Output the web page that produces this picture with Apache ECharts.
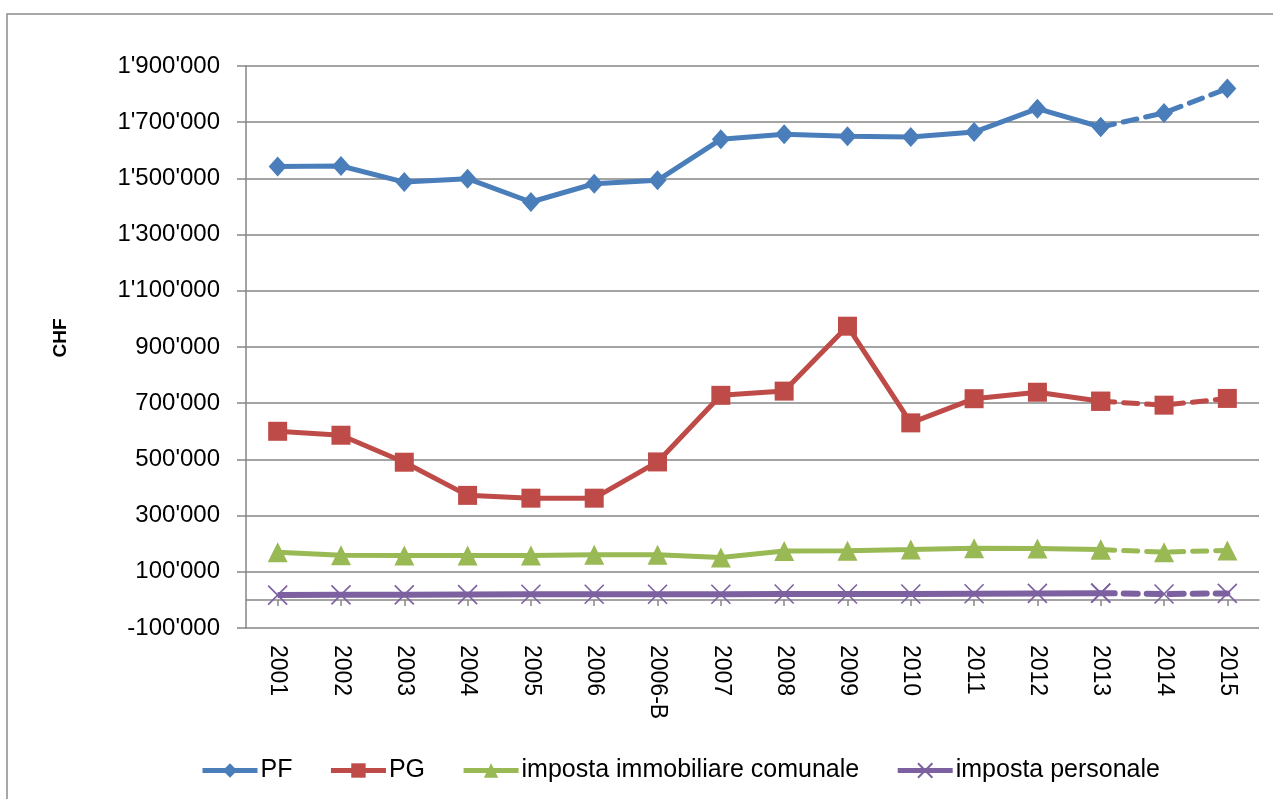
<!DOCTYPE html>
<html>
<head>
<meta charset="utf-8">
<script src="https://cdn.jsdelivr.net/npm/echarts@6/dist/echarts.min.js"></script>
<style>
html,body{margin:0;padding:0;background:#fff;}
#chart{width:1273px;height:799px;}
</style>
</head>
<body>
<div id="chart"></div>
<script>
const categories = ['2001','2002','2003','2004','2005','2006','2006-B','2007','2008','2009','2010','2011','2012','2013','2014','2015'];
const pfValues = [1542000,1544000,1487000,1499000,1416000,1481000,1493000,1639000,1657000,1650000,1647000,1665000,1748000,1683000,1733000,1820000];
const pgValues = [600000,586000,490000,372000,362000,362000,491000,728000,743000,974000,630000,716000,739000,707000,693000,717000];
const immobiliareValues = [170000,159000,158000,158000,158000,161000,161000,151000,174000,175000,179000,184000,183000,179000,170000,176000];
const personaleValues = [17000,18000,18000,19000,20000,20000,20000,20000,21000,21000,21000,22000,23000,24000,21000,23000];
const seriesNames = ['PF','PG','imposta immobiliare comunale','imposta personale'];
const yTicks = {min:-100000, max:1900000, interval:200000};
const lastSolidIndex = 13; // 2013: from here on the line is dashed

const colors = ['#4A7EBB','#BE4B48','#98B954','#7D60A0'];
const symbols = ['diamond','rect','triangle','path://M0,0L10,10M10,0L0,10'];
const symbolSizes = [[18,20],19,20,19];
const lineWidths = [5,5,5,6];
const allValues = [pfValues,pgValues,immobiliareValues,personaleValues];

function fmt(v){
  const s = Math.abs(v).toString().replace(/\B(?=(\d{3})+(?!\d))/g, "'");
  return (v < 0 ? '-' : '') + s;
}

const series = [];
allValues.forEach(function(vals, i){
  const isX = symbols[i].indexOf('path://') === 0;
  const itemStyle = isX ? {color:colors[i], borderColor:colors[i], borderWidth:1.6} : {color:colors[i]};
  const solid = vals.map(function(v, k){ return k <= lastSolidIndex ? v : null; });
  const dashed = vals.map(function(v, k){ return k >= lastSolidIndex ? v : null; });
  series.push({
    name: seriesNames[i], type:'line', xAxisIndex:0, data: solid,
    symbol: symbols[i], symbolSize: symbolSizes[i], showAllSymbol:true,
    lineStyle:{color:colors[i], width:lineWidths[i]},
    itemStyle: itemStyle, z: 10 - i, animation:false
  });
  series.push({
    name: seriesNames[i], type:'line', xAxisIndex:0, data: dashed,
    symbol: symbols[i], symbolSize: symbolSizes[i], showAllSymbol:true,
    lineStyle:{color:colors[i], width:lineWidths[i], type:[14,9], cap:'round'},
    itemStyle: itemStyle, z: 10 - i, animation:false
  });
});

const chart = echarts.init(document.getElementById('chart'), null, {renderer:'canvas'});
chart.setOption({
  backgroundColor:'#ffffff',
  animation:false,
  textStyle:{fontFamily:'Liberation Sans, Arial, sans-serif'},
  graphic:[{
    type:'rect', shape:{x:7, y:14, width:1300, height:820},
    style:{fill:'none', stroke:'#8c8c8c', lineWidth:1.5}, silent:true, z:-10
  }],
  grid:{left:246, right:14, top:66, bottom:171, containLabel:false},
  legend:{
    data: seriesNames, bottom: 11, left:195,
    itemWidth:55, itemHeight:18, itemGap:36,
    lineStyle:{width:5},
    textStyle:{fontSize:25, color:'#000', fontFamily:'Liberation Sans, Arial, sans-serif', padding:[0,0,0,-2]}
  },
  xAxis:[{
    type:'category', data: categories, boundaryGap:true, position:'bottom',
    axisLine:{onZero:true, lineStyle:{color:'#868686', width:1.5}},
    axisTick:{show:true, alignWithLabel:true, length:6, lineStyle:{color:'#868686', width:1.5}},
    axisLabel:{show:false}, splitLine:{show:false}
  },{
    type:'category', data: categories, boundaryGap:true, position:'bottom',
    axisLine:{show:false, onZero:false}, axisTick:{show:false},
    axisLabel:{show:true, rotate:-90, margin:17, fontSize:23, color:'#000', interval:0},
    splitLine:{show:false}
  }],
  yAxis:{
    type:'value', min:yTicks.min, max:yTicks.max, interval:yTicks.interval,
    name:'CHF', nameLocation:'middle', nameRotate:90, nameGap:176,
    nameTextStyle:{fontSize:19, fontWeight:'bold', color:'#000', padding:[0,0,0,18]},
    axisLine:{show:true, lineStyle:{color:'#868686', width:1.5}},
    axisTick:{show:true, length:9, lineStyle:{color:'#868686', width:1.5}},
    axisLabel:{fontSize:24, color:'#000', margin:26, formatter: fmt},
    splitLine:{show:true, lineStyle:{color:'#868686', width:1.5}}
  },
  series: series
});
</script>
</body>
</html>
